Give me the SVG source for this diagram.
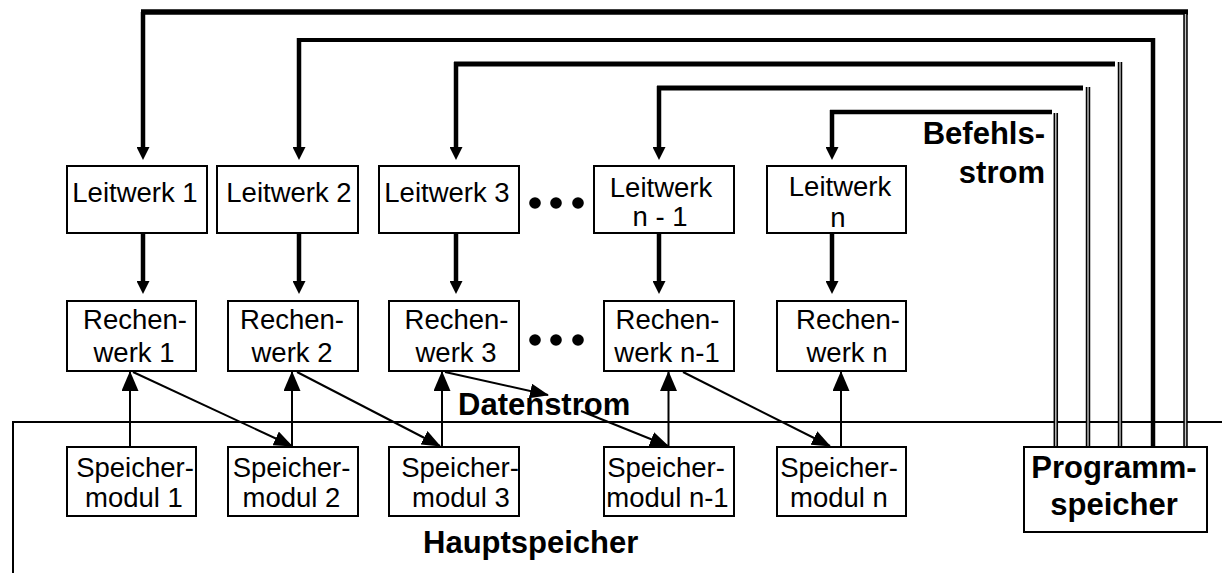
<svg xmlns="http://www.w3.org/2000/svg" width="1222" height="573" viewBox="0 0 1222 573">
  <style>
    .box { fill: #fff; stroke: #000; stroke-width: 2; }
    .lbl { font-family: "Liberation Sans", Arial, sans-serif; font-size: 27.5px; fill: #000; text-anchor: middle; }
    .big { font-family: "Liberation Sans", Arial, sans-serif; font-size: 31px; font-weight: bold; fill: #000; }
    .thick { fill: none; stroke: #000; stroke-width: 4.5; }
    .thin { fill: none; stroke: #000; stroke-width: 2; }
    .dbl { fill: none; stroke: #000; stroke-width: 4.5; }
    .dbl-in { fill: none; stroke: #c4c4c4; stroke-width: 1.4; }
    .dot { fill: #000; }
  </style>
  <defs>
    <!-- heavy control-flow arrowhead; tip lies 11px past the path end -->
    <marker id="hd" markerUnits="userSpaceOnUse" markerWidth="13" markerHeight="13" viewBox="0 0 13 13" refX="2" refY="6.5" orient="auto">
      <path d="M0,0 L13,6.5 L0,13 z" fill="#000"/>
    </marker>
    <!-- data-flow arrowhead; tip at the path end -->
    <marker id="ht" markerUnits="userSpaceOnUse" markerWidth="20" markerHeight="17" viewBox="0 0 20 17" refX="19" refY="8.5" orient="auto">
      <path d="M0,0 L20,8.5 L0,17 z" fill="#000"/>
    </marker>
    <marker id="hs" markerUnits="userSpaceOnUse" markerWidth="19" markerHeight="15" viewBox="0 0 19 15" refX="18" refY="7.5" orient="auto">
      <path d="M0,0 L19,7.5 L0,15 z" fill="#000"/>
    </marker>
  </defs>

  <rect width="1222" height="573" fill="#fff"/>

  <!-- main memory region (open frame) -->
  <g id="hauptspeicher">
    <path d="M13,573 V422 H1222" fill="none" stroke="#000" stroke-width="2"/>
    <text class="big" x="423" y="553">Hauptspeicher</text>
  </g>

  <g id="connectors">
    <!-- instruction stream: program memory to the control units -->
    <path d="M141,12 H1188" fill="none" stroke="#000" stroke-width="5.5"/>
    <path class="thick" d="M143,12 V149" marker-end="url(#hd)"/>
    <path d="M297,40 H1155" fill="none" stroke="#000" stroke-width="4"/>
    <path class="thick" d="M299,38 V149" marker-end="url(#hd)"/>
    <path d="M1153,38 V448" fill="none" stroke="#000" stroke-width="4.5"/>
    <path d="M454,64 H1115" fill="none" stroke="#000" stroke-width="5"/>
    <path class="thick" d="M456,62 V149" marker-end="url(#hd)"/>
    <path d="M657,88 H1083" fill="none" stroke="#000" stroke-width="5"/>
    <path class="thick" d="M659,86 V149" marker-end="url(#hd)"/>
    <path d="M830,112 H1052" fill="none" stroke="#000" stroke-width="4.5"/>
    <path class="thick" d="M832,110 V149" marker-end="url(#hd)"/>

    <!-- double lines rising from the program memory -->
    <path class="dbl" d="M1185.5,14 V448 M1120,62 V448 M1088,87 V448 M1055.8,113 V448"/>
    <path class="dbl-in" d="M1185.5,14 V448 M1120,62 V448 M1088,87 V448 M1055.8,113 V448"/>

    <!-- control units to arithmetic units -->
    <path class="thick" d="M143,233 V283" marker-end="url(#hd)"/>
    <path class="thick" d="M299,233 V283" marker-end="url(#hd)"/>
    <path class="thick" d="M456,233 V283" marker-end="url(#hd)"/>
    <path class="thick" d="M659,233 V283" marker-end="url(#hd)"/>
    <path class="thick" d="M832,233 V283" marker-end="url(#hd)"/>

    <!-- data stream: memory modules up to arithmetic units -->
    <path class="thin" d="M130,447 V372" marker-end="url(#ht)"/>
    <path class="thin" d="M292,447 V372" stroke-width="2.6" marker-end="url(#ht)"/>
    <path class="thin" d="M442,447 V372" stroke-width="2.6" marker-end="url(#ht)"/>
    <path class="thin" d="M668.5,447 V372" marker-end="url(#ht)"/>
    <path class="thin" d="M841,447 V372" marker-end="url(#ht)"/>

    <!-- data stream: arithmetic units down to neighbouring modules -->
    <path class="thin" d="M133,372 L292,446" marker-end="url(#hs)"/>
    <path class="thin" d="M297,372 L440,446" marker-end="url(#hs)"/>
    <path class="thin" d="M445,372 L548,395" marker-end="url(#hs)"/>
    <path class="thin" d="M581,411 L668,446" marker-end="url(#hs)"/>
    <path class="thin" d="M683,372 L830,446" marker-end="url(#hs)"/>
  </g>

  <!-- control units -->
  <g id="leitwerk-1">
    <rect class="box" x="67" y="166" width="140" height="67"/>
    <text class="lbl" x="135" y="202">Leitwerk 1</text>
  </g>
  <g id="leitwerk-2">
    <rect class="box" x="217" y="166" width="141" height="67"/>
    <text class="lbl" x="289" y="202">Leitwerk 2</text>
  </g>
  <g id="leitwerk-3">
    <rect class="box" x="379" y="166" width="140" height="67"/>
    <text class="lbl" x="447" y="202">Leitwerk 3</text>
  </g>
  <g id="leitwerk-n-1">
    <rect class="box" x="594" y="166" width="140" height="67"/>
    <text class="lbl" x="661" y="197">Leitwerk</text>
    <text class="lbl" x="660" y="226">n - 1</text>
  </g>
  <g id="leitwerk-n">
    <rect class="box" x="767" y="166" width="139" height="67"/>
    <text class="lbl" x="840" y="196">Leitwerk</text>
    <text class="lbl" x="838" y="227">n</text>
  </g>

  <!-- arithmetic units -->
  <g id="rechenwerk-1">
    <rect class="box" x="67" y="301" width="129" height="70"/>
    <text class="lbl" x="135" y="329">Rechen-</text>
    <text class="lbl" x="134" y="362">werk 1</text>
  </g>
  <g id="rechenwerk-2">
    <rect class="box" x="228" y="301" width="130" height="70"/>
    <text class="lbl" x="292" y="329">Rechen-</text>
    <text class="lbl" x="292" y="362">werk 2</text>
  </g>
  <g id="rechenwerk-3">
    <rect class="box" x="389" y="301" width="130" height="70"/>
    <text class="lbl" x="456.5" y="329">Rechen-</text>
    <text class="lbl" x="456" y="362">werk 3</text>
  </g>
  <g id="rechenwerk-n-1">
    <rect class="box" x="604" y="301" width="130" height="70"/>
    <text class="lbl" x="667.5" y="329">Rechen-</text>
    <text class="lbl" x="667" y="362">werk n-1</text>
  </g>
  <g id="rechenwerk-n">
    <rect class="box" x="777" y="301" width="129" height="70"/>
    <text class="lbl" x="848" y="329">Rechen-</text>
    <text class="lbl" x="847" y="362">werk n</text>
  </g>

  <!-- memory modules -->
  <g id="speichermodul-1">
    <rect class="box" x="67" y="447" width="129" height="69"/>
    <text class="lbl" x="135" y="477">Speicher-</text>
    <text class="lbl" x="134" y="507">modul 1</text>
  </g>
  <g id="speichermodul-2">
    <rect class="box" x="228" y="447" width="130" height="69"/>
    <text class="lbl" x="291.5" y="477">Speicher-</text>
    <text class="lbl" x="291.5" y="507">modul 2</text>
  </g>
  <g id="speichermodul-3">
    <rect class="box" x="389" y="447" width="130" height="69"/>
    <text class="lbl" x="460" y="477">Speicher-</text>
    <text class="lbl" x="461" y="507">modul 3</text>
  </g>
  <g id="speichermodul-n-1">
    <rect class="box" x="604" y="447" width="130" height="69"/>
    <text class="lbl" x="666" y="477">Speicher-</text>
    <text class="lbl" x="667.5" y="507">modul n-1</text>
  </g>
  <g id="speichermodul-n">
    <rect class="box" x="777" y="447" width="129" height="69"/>
    <text class="lbl" x="839" y="477">Speicher-</text>
    <text class="lbl" x="839" y="507">modul n</text>
  </g>

  <!-- program memory -->
  <g id="programmspeicher">
    <rect class="box" x="1024" y="447" width="183" height="85"/>
    <text class="big" x="1114" y="478" text-anchor="middle">Programm-</text>
    <text class="big" x="1114" y="515" text-anchor="middle">speicher</text>
  </g>

  <!-- ellipsis between unit 3 and unit n-1 -->
  <g id="ellipsis">
    <circle class="dot" cx="535" cy="203" r="5.8"/>
    <circle class="dot" cx="556" cy="203" r="5.8"/>
    <circle class="dot" cx="578" cy="203" r="5.8"/>
    <circle class="dot" cx="535" cy="340" r="5.8"/>
    <circle class="dot" cx="556" cy="340" r="5.8"/>
    <circle class="dot" cx="578" cy="340" r="5.8"/>
  </g>

  <!-- stream labels -->
  <g id="labels">
    <text class="big" x="1045" y="144" text-anchor="end">Befehls-</text>
    <text class="big" x="1045" y="183" text-anchor="end">strom</text>
    <text class="big" x="458" y="415">Datenstrom</text>
  </g>
</svg>
